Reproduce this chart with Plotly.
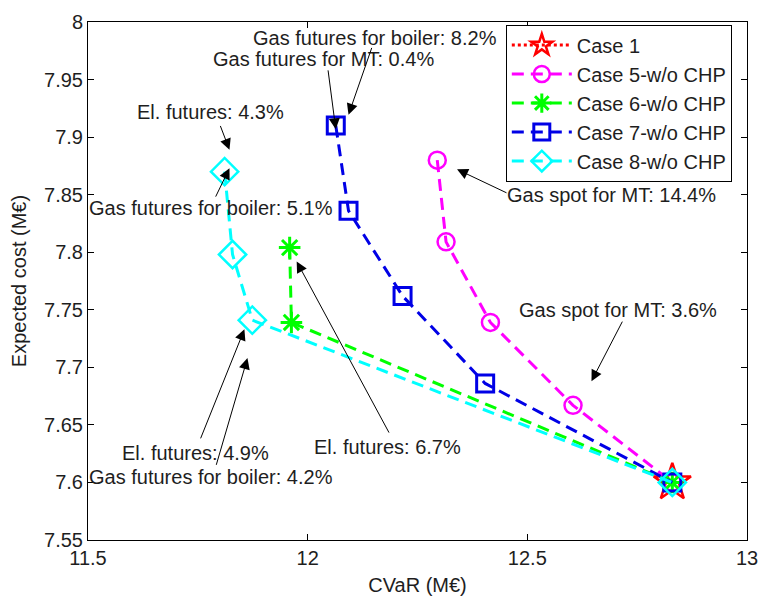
import plotly.graph_objects as go

# Efficient frontiers: CVaR (M€) vs expected cost (M€)
cvar_case1 = [12.83]
cost_case1 = [7.600]

cvar_case5 = [12.295, 12.315, 12.416, 12.604, 12.83]
cost_case5 = [7.880, 7.809, 7.739, 7.667, 7.600]

cvar_case6 = [11.959, 11.963, 12.83]
cost_case6 = [7.804, 7.739, 7.600]

cvar_case7 = [12.064, 12.093, 12.216, 12.404, 12.83]
cost_case7 = [7.910, 7.836, 7.762, 7.686, 7.600]

cvar_case8 = [11.811, 11.829, 11.874, 12.83]
cost_case8 = [7.870, 7.798, 7.741, 7.600]

x_ticks = [11.5, 12, 12.5, 13]
x_tick_labels = ["11.5", "12", "12.5", "13"]
y_ticks = [7.55, 7.6, 7.65, 7.7, 7.75, 7.8, 7.85, 7.9, 7.95, 8.0]
y_tick_labels = ["7.55", "7.6", "7.65", "7.7", "7.75", "7.8", "7.85", "7.9", "7.95", "8"]

FONT = "Liberation Sans, Arial, Helvetica, sans-serif"
TXT = "#1e1e1e"

fig = go.Figure()

series = [
    ("Case 1", cvar_case1, cost_case1, "#ff0000", "dot", "star-open", 28, 2.5),
    ("Case 5-w/o CHP", cvar_case5, cost_case5, "#ff00ff", "12px,7px", "circle-open", 17, 2.5),
    ("Case 6-w/o CHP", cvar_case6, cost_case6, "#00ff00", "12px,7px", "asterisk-open", 18, 3),
    ("Case 7-w/o CHP", cvar_case7, cost_case7, "#0000e6", "12px,7px", "square-open", 17, 3),
    ("Case 8-w/o CHP", cvar_case8, cost_case8, "#00ffff", "12px,7px", "diamond-open", 21, 2.5),
]
for name, xs, ys, col, dash, sym, size, mlw in series:
    fig.add_trace(go.Scatter(
        x=xs, y=ys, name=name, mode="lines+markers",
        line=dict(color=col, width=3, dash=dash),
        marker=dict(symbol=sym, size=size, color=col, line=dict(color=col, width=mlw)),
    ))

# Text labels (data coordinates of label centre)
labels = [
    ("Gas futures for boiler: 8.2%", 12.154, 7.9864),
    ("Gas futures for MT: 0.4%", 12.035, 7.9678),
    ("El. futures: 4.3%", 11.778, 7.922),
    ("Gas futures for boiler: 5.1%", 11.780, 7.838),
    ("El. futures: 4.9%", 11.744, 7.626),
    ("Gas futures for boiler: 4.2%", 11.780, 7.605),
    ("El. futures: 6.7%", 12.181, 7.631),
    ("Gas spot for MT: 14.4%", 12.691, 7.850),
    ("Gas spot for MT: 3.6%", 12.707, 7.750),
]
# Arrows: (tail x, tail y, head x, head y)
arrows = [
    (12.147, 7.9788, 12.093, 7.9195),
    (12.046, 7.9593, 12.064, 7.9068),
    (11.800, 7.911, 11.822, 7.889),
    (11.789, 7.847, 11.822, 7.873),
    (11.755, 7.637, 11.856, 7.733),
    (11.791, 7.614, 11.863, 7.708),
    (12.187, 7.642, 11.975, 7.792),
    (12.456, 7.851, 12.340, 7.872),
    (12.718, 7.741, 12.646, 7.688),
]

annotations = []
for txt, lx, ly in labels:
    annotations.append(dict(
        x=lx, y=ly, xref="x", yref="y", text=txt, showarrow=False,
        font=dict(family=FONT, size=20, color=TXT),
        xanchor="center", yanchor="middle",
    ))
for tx, ty, hx, hy in arrows:
    annotations.append(dict(
        x=hx, y=hy, xref="x", yref="y", ax=tx, ay=ty, axref="x", ayref="y",
        text="", showarrow=True, arrowhead=2, arrowsize=2.2, arrowwidth=1,
        arrowcolor="#000000", standoff=0, startstandoff=0,
    ))

axis_common = dict(
    showline=True, linecolor="#000000", linewidth=1, mirror="ticks",
    ticks="inside", ticklen=6, tickcolor="#000000", showgrid=False, zeroline=False,
    tickfont=dict(family=FONT, size=20, color=TXT),
)

fig.update_layout(
    width=769, height=603,
    margin=dict(l=88, r=11, t=12, b=60),
    paper_bgcolor="white", plot_bgcolor="white",
    font=dict(family=FONT, size=20, color=TXT),
    xaxis=dict(range=[11.5, 13], tickvals=x_ticks, ticktext=x_tick_labels,
               title=dict(text="CVaR (M€)", font=dict(family=FONT, size=20, color=TXT), standoff=9),
               **axis_common),
    yaxis=dict(range=[7.55, 8.0], tickvals=y_ticks, ticktext=y_tick_labels,
               title=dict(text="Expected cost (M€)", font=dict(family=FONT, size=20, color=TXT), standoff=12),
               **axis_common),
    legend=dict(x=0.634, y=0.995, xanchor="left", yanchor="top",
                bgcolor="white", bordercolor="#000000", borderwidth=1,
                font=dict(family=FONT, size=20, color=TXT),
                itemwidth=60, tracegroupgap=0),
    annotations=annotations,
    showlegend=True,
)

fig.write_html("out.html")
